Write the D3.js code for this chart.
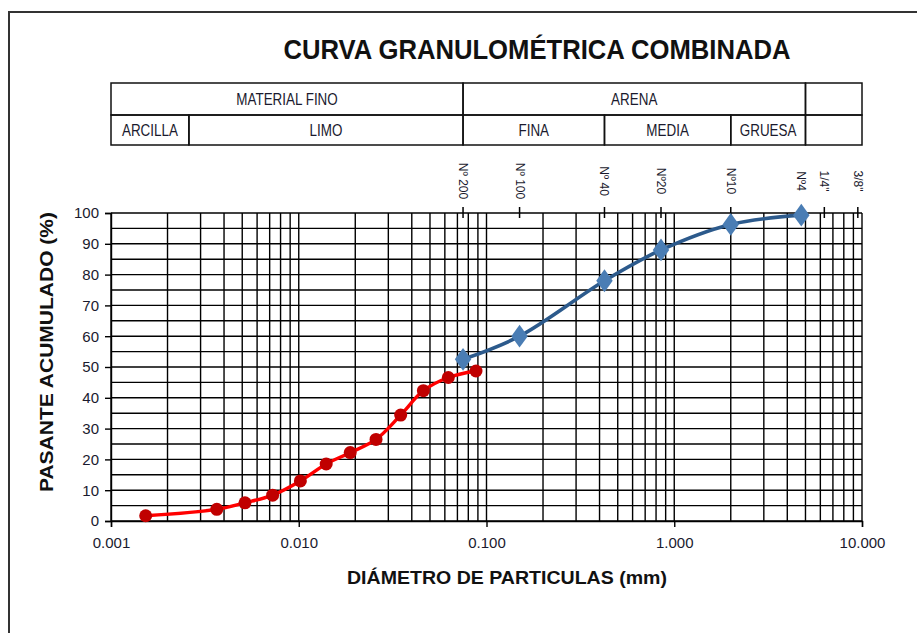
<!DOCTYPE html>
<html>
<head>
<meta charset="utf-8">
<script src="https://cdn.jsdelivr.net/npm/d3@7"></script>
<style>
body { margin:0; background:#fff; }
svg text { font-family: "Liberation Sans Narrow", "Arial Narrow", "Liberation Sans", Arial, sans-serif; fill:#1a1a2e; }
</style>
</head>
<body>
<svg id="chart" width="917" height="633"></svg>
<script>
// tamices (mm) y sus nombres
var sieveSizes = [0.075, 0.15, 0.425, 0.85, 2.0, 4.75, 6.3, 9.5];
var sieveLabels = ["Nº 200", "Nº 100", "Nº 40", "Nº20", "Nº10", "Nº4", "1/4\"", "3/8\""];

// hidrometro (material fino)
var finoDiam = [0.00153, 0.00366, 0.00517, 0.00726, 0.0102, 0.0140, 0.0188, 0.0258, 0.0349, 0.0461, 0.0626, 0.0879];
var finoPasa = [1.7, 3.8, 5.9, 8.4, 13.0, 18.5, 22.2, 26.5, 34.4, 42.3, 46.6, 48.7];

// tamizado
var tamizDiam = [0.075, 0.15, 0.425, 0.85, 2.0, 4.75];
var tamizPasa = [52.5, 60.0, 78.0, 88.0, 96.3, 99.3];

var xTicks = [0.001, 0.01, 0.1, 1, 10];
var yTicks = [0, 10, 20, 30, 40, 50, 60, 70, 80, 90, 100];

// tabla de clasificacion
var topRow = [{label: "MATERIAL FINO", a: 0.001, b: 0.075},
              {label: "ARENA", a: 0.075, b: 5.0},
              {label: "", a: 5.0, b: 10}];
var botRow = [{label: "ARCILLA", a: 0.001, b: 0.0026},
              {label: "LIMO", a: 0.0026, b: 0.075},
              {label: "FINA", a: 0.075, b: 0.425},
              {label: "MEDIA", a: 0.425, b: 2.0},
              {label: "GRUESA", a: 2.0, b: 5.0},
              {label: "", a: 5.0, b: 10}];

var svg = d3.select("#chart");
var pLeft = 111, pRight = 862, pTop = 213, pBottom = 521;
var narrow = 0.84; // para imitar Arial Narrow

var x = d3.scaleLog().domain([0.001, 10]).range([pLeft, pRight]);
var y = d3.scaleLinear().domain([0, 100]).range([pBottom, pTop]);

// marco exterior
svg.append("rect").attr("x", 9).attr("y", 12).attr("width", 940).attr("height", 660)
    .attr("fill", "none").attr("stroke", "#333").attr("stroke-width", 2);

// titulo
svg.append("text").attr("x", 537).attr("y", 59)
    .attr("text-anchor", "middle")
    .style("font-size", "28px").style("font-weight", "bold")
    .attr("textLength", 507).attr("lengthAdjust", "spacingAndGlyphs")
    .style("fill", "#111")
    .text("CURVA GRANULOMÉTRICA COMBINADA");

// tabla
var rowY = [83, 115, 145];
function drawRow(row, y0, y1){
    var g = svg.append("g");
    g.selectAll("rect").data(row).enter().append("rect")
        .attr("x", function(d){ return x(d.a); })
        .attr("y", y0)
        .attr("width", function(d){ return x(d.b) - x(d.a); })
        .attr("height", y1 - y0)
        .attr("fill", "none").attr("stroke", "#111").attr("stroke-width", 1.5);
    g.selectAll("text").data(row).enter().append("text")
        .attr("transform", function(d){
            return "translate(" + (x(d.a) + x(d.b)) / 2 + "," + ((y0 + y1) / 2 + 6) + ") scale(" + narrow + ",1)";
        })
        .attr("text-anchor", "middle")
        .style("font-size", "16px")
        .text(function(d){ return d.label; });
}
drawRow(topRow, rowY[0], rowY[1]);
drawRow(botRow, rowY[1], rowY[2]);

// rejilla
var minor = [];
[0.001, 0.01, 0.1, 1].forEach(function(dec){
    for (var k = 1; k <= 9; k++) minor.push(dec * k);
});
minor.push(10);

var grid = svg.append("g").attr("stroke", "#000").attr("stroke-width", 1.4);
grid.selectAll(".vline").data(minor).enter().append("line")
    .attr("x1", function(d){ return x(d); }).attr("x2", function(d){ return x(d); })
    .attr("y1", pTop).attr("y2", pBottom);
grid.selectAll(".hline").data(d3.range(0, 101, 5)).enter().append("line")
    .attr("x1", pLeft).attr("x2", pRight)
    .attr("y1", function(d){ return y(d); }).attr("y2", function(d){ return y(d); });

// eje y
var yAxis = svg.append("g").attr("transform", "translate(" + pLeft + ",0)")
    .call(d3.axisLeft(y).tickValues(yTicks).tickSize(6).tickPadding(6));
yAxis.select(".domain").attr("stroke", "#000").attr("stroke-width", 1.4);
yAxis.selectAll(".tick line").attr("stroke", "#000").attr("stroke-width", 1.4);
yAxis.selectAll("text").style("font-size", "15px").style("font-family", "Liberation Sans, Arial, sans-serif").attr("fill", "#1a1a3a");

// eje x
var xAxis = svg.append("g").attr("transform", "translate(0," + pBottom + ")")
    .call(d3.axisBottom(x).tickValues(xTicks).tickSize(6).tickPadding(10)
        .tickFormat(d3.format(".3f")));
xAxis.select(".domain").attr("stroke", "#000").attr("stroke-width", 1.4);
xAxis.selectAll(".tick line").attr("stroke", "#000").attr("stroke-width", 1.4);
xAxis.selectAll("text").style("font-size", "15px").style("font-family", "Liberation Sans, Arial, sans-serif").attr("fill", "#1a1a3a");

// tamices arriba
var sv = svg.append("g");
sv.selectAll("line").data(sieveSizes).enter().append("line")
    .attr("x1", function(d){ return x(d); }).attr("x2", function(d){ return x(d); })
    .attr("y1", pTop - 6).attr("y2", pTop + 5)
    .attr("stroke", "#000").attr("stroke-width", 1.5);
sv.selectAll("text").data(sieveSizes).enter().append("text")
    .attr("transform", function(d){ return "translate(" + (x(d) - 4) + ",181) rotate(90)"; })
    .attr("text-anchor", "middle")
    .style("font-size", "12px")
    .text(function(d, i){ return sieveLabels[i]; });

// titulos de ejes
svg.append("text").attr("x", 507).attr("y", 584)
    .attr("text-anchor", "middle")
    .style("font-size", "18px").style("font-weight", "bold").style("fill", "#111")
    .attr("textLength", 320).attr("lengthAdjust", "spacingAndGlyphs")
    .text("DIÁMETRO DE PARTICULAS (mm)");
svg.append("text")
    .attr("transform", "translate(53,352) rotate(-90)")
    .attr("text-anchor", "middle")
    .style("font-size", "18px").style("font-weight", "bold").style("fill", "#111")
    .attr("textLength", 280).attr("lengthAdjust", "spacingAndGlyphs")
    .text("PASANTE ACUMULADO (%)");

// curvas
var line = d3.line()
    .x(function(d){ return x(d[0]); })
    .y(function(d){ return y(d[1]); })
    .curve(d3.curveCatmullRom.alpha(0.5));

var tamiz = d3.zip(tamizDiam, tamizPasa);
var fino = d3.zip(finoDiam, finoPasa);

svg.append("path").datum(tamiz).attr("d", line)
    .attr("fill", "none").attr("stroke", "#2c5a8c").attr("stroke-width", 3.6);
svg.append("g").selectAll("path").data(tamiz).enter().append("path")
    .attr("d", d3.symbol().type(d3.symbolDiamond).size(150))
    .attr("transform", function(d){ return "translate(" + x(d[0]) + "," + y(d[1]) + ") scale(1.25,1)"; })
    .attr("fill", "#4a7db4");

svg.append("path").datum(fino).attr("d", line)
    .attr("fill", "none").attr("stroke", "#ff0000").attr("stroke-width", 3.4);
svg.append("g").selectAll("circle").data(fino).enter().append("circle")
    .attr("cx", function(d){ return x(d[0]); })
    .attr("cy", function(d){ return y(d[1]); })
    .attr("r", 6.5)
    .attr("fill", "#c00000");
</script>
</body>
</html>
